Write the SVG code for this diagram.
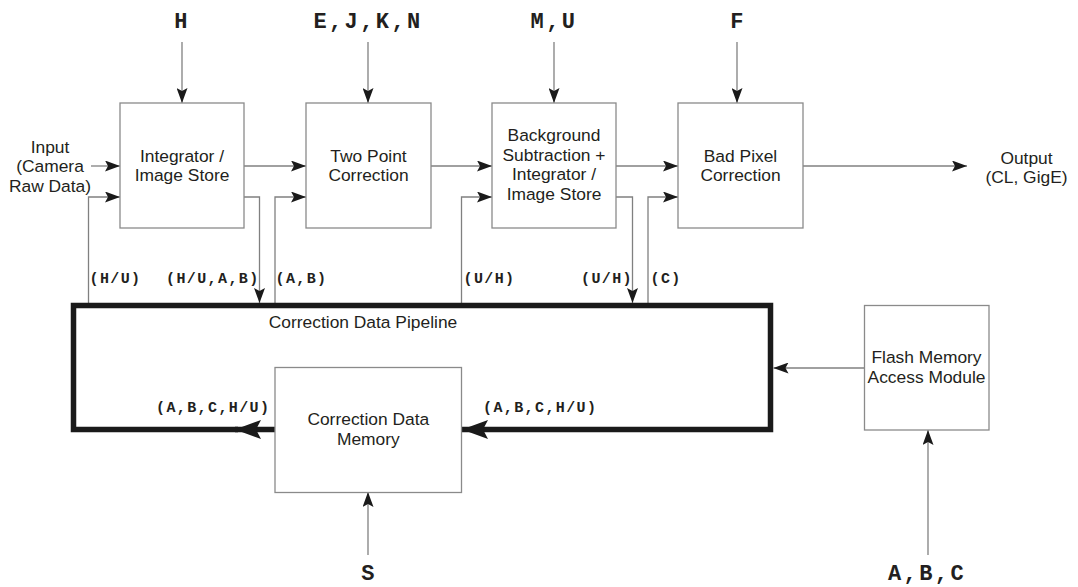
<svg xmlns="http://www.w3.org/2000/svg" width="1078" height="587" viewBox="0 0 1078 587">
<defs>
<style>
.box{fill:#fff;stroke:#8a8a8a;stroke-width:1.3}
.t{font-family:"Liberation Sans",Arial,sans-serif;font-size:17.4px;fill:#231f20;text-anchor:middle}
.big{font-family:"Liberation Mono","Courier New",monospace;font-weight:bold;font-size:22px;letter-spacing:2.4px;fill:#231f20;text-anchor:middle}
.sm{font-family:"Liberation Mono","Courier New",monospace;font-weight:bold;font-size:15px;letter-spacing:1.4px;fill:#231f20}
.ln{fill:none;stroke:#808080;stroke-width:1.3}
.thick{fill:none;stroke:#1a1a1a;stroke-width:5.5;stroke-linejoin:miter}
</style>
<marker id="a" markerWidth="15" markerHeight="11" refX="15" refY="5.5" orient="auto" markerUnits="userSpaceOnUse"><path d="M0,0 L15,5.5 L0,11 L3,5.5 z" fill="#1a1a1a"/></marker>
<marker id="b" markerWidth="26" markerHeight="19" refX="26" refY="9.5" orient="auto" markerUnits="userSpaceOnUse"><path d="M0,0 L26,9.5 L0,19 L5,9.5 z" fill="#1a1a1a"/></marker>
</defs>
<rect width="1078" height="587" fill="#fff"/>

<g id="connectors">
<path class="ln" d="M182,42 V103" marker-end="url(#a)"/>
<path class="ln" d="M368,42 V103" marker-end="url(#a)"/>
<path class="ln" d="M554,42 V103" marker-end="url(#a)"/>
<path class="ln" d="M737,42 V103" marker-end="url(#a)"/>
<path class="ln" d="M91,166 H120" marker-end="url(#a)"/>
<path class="ln" d="M244,166 H306" marker-end="url(#a)"/>
<path class="ln" d="M431,166 H492" marker-end="url(#a)"/>
<path class="ln" d="M616,166 H678" marker-end="url(#a)"/>
<path class="ln" d="M803,166 H967" marker-end="url(#a)"/>
<path class="ln" d="M88.5,305 V197 H120" marker-end="url(#a)"/>
<path class="ln" d="M244,197 H259.5 V303" marker-end="url(#a)"/>
<path class="ln" d="M275,305 V197 H306" marker-end="url(#a)"/>
<path class="ln" d="M461.5,305 V197 H492" marker-end="url(#a)"/>
<path class="ln" d="M616,197 H632.5 V303" marker-end="url(#a)"/>
<path class="ln" d="M648,305 V197 H678" marker-end="url(#a)"/>
<path class="ln" d="M864.5,368 H773.5" marker-end="url(#a)"/>
<path class="ln" d="M928,555 V430" marker-end="url(#a)"/>
<path class="ln" d="M368,555 V492" marker-end="url(#a)"/>
<path class="thick" d="M275,429.5 H235" marker-end="url(#b)"/>
<path class="thick" d="M238,429.5 H73.5 V305.5 H770.5 V429.5 H462" marker-end="url(#b)"/>
</g>

<g id="labels">
<text class="big" x="182" y="28">H</text>
<text class="big" x="368" y="28">E,J,K,N</text>
<text class="big" x="554" y="28">M,U</text>
<text class="big" x="738" y="28">F</text>
<text class="big" x="369" y="580">S</text>
<text class="big" x="927" y="580">A,B,C</text>
<text class="sm" x="89.5" y="283">(H/U)</text>
<text class="sm" x="166" y="283">(H/U,A,B)</text>
<text class="sm" x="275.5" y="283">(A,B)</text>
<text class="sm" x="463.5" y="283">(U/H)</text>
<text class="sm" x="581" y="283">(U/H)</text>
<text class="sm" x="650.5" y="283">(C)</text>
<text class="sm" x="156" y="412">(A,B,C,H/U)</text>
<text class="sm" x="483" y="412">(A,B,C,H/U)</text>
<text class="t" x="363" y="328">Correction Data Pipeline</text>
<text class="t" x="50" y="152.5">Input</text>
<text class="t" x="50" y="172">(Camera</text>
<text class="t" x="50" y="191.5">Raw Data)</text>
<text class="t" x="1026.5" y="164">Output</text>
<text class="t" x="1026.5" y="183">(CL, GigE)</text>
</g>

<g id="integrator">
<rect class="box" x="120" y="103" width="124" height="125"/>
<text class="t" x="182" y="161.5">Integrator /</text>
<text class="t" x="182" y="181">Image Store</text>
</g>
<g id="two-point">
<rect class="box" x="306" y="103" width="125" height="125"/>
<text class="t" x="368.5" y="161.5">Two Point</text>
<text class="t" x="368.5" y="181">Correction</text>
</g>
<g id="background">
<rect class="box" x="492" y="103" width="124" height="125"/>
<text class="t" x="554" y="141">Background</text>
<text class="t" x="554" y="160.7">Subtraction +</text>
<text class="t" x="554" y="180.3">Integrator /</text>
<text class="t" x="554" y="200">Image Store</text>
</g>
<g id="bad-pixel">
<rect class="box" x="678" y="103" width="125" height="125"/>
<text class="t" x="740.5" y="161.5">Bad Pixel</text>
<text class="t" x="740.5" y="181">Correction</text>
</g>
<g id="cdm">
<rect class="box" x="275" y="367.5" width="186.5" height="125"/>
<text class="t" x="368.3" y="425">Correction Data</text>
<text class="t" x="368.3" y="444.5">Memory</text>
</g>
<g id="flash">
<rect class="box" x="864.5" y="305.5" width="124.5" height="124.5"/>
<text class="t" x="926.5" y="362.7">Flash Memory</text>
<text class="t" x="926.5" y="382.5">Access Module</text>
</g>
</svg>
